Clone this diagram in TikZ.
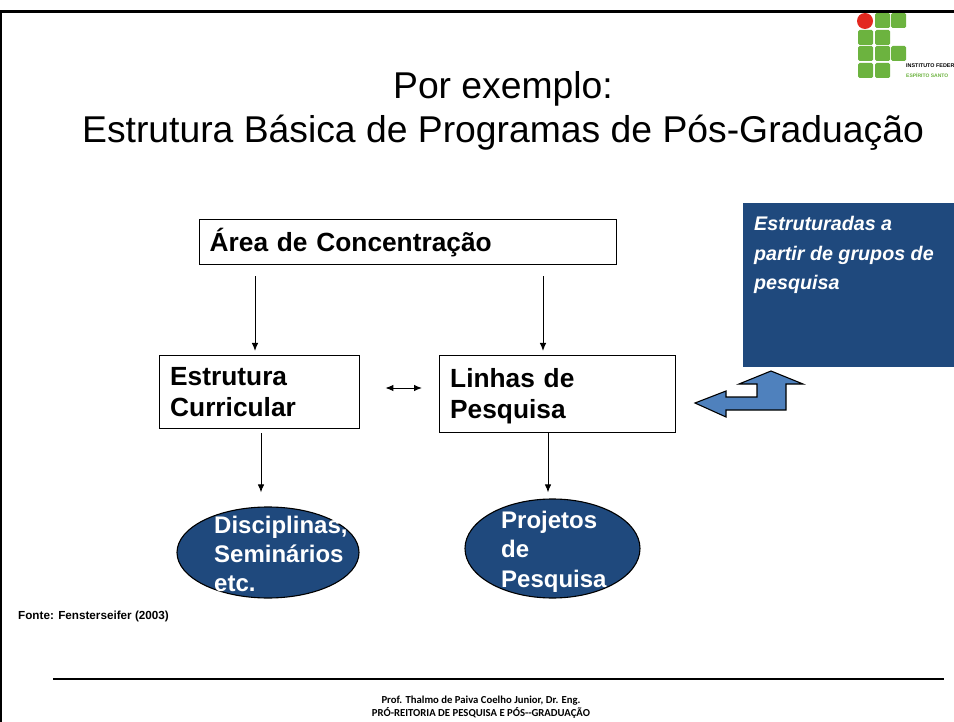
\documentclass[tikz,border=0pt]{standalone}
\usepackage{fontspec}
\setmainfont{Liberation Sans}
\newfontfamily\foot{Carlito}
\usetikzlibrary{shapes.geometric,arrows.meta}
\definecolor{navy}{HTML}{1F497D}
\definecolor{midblue}{HTML}{4F81BD}
\definecolor{ifgreen}{HTML}{6CB33F}
\definecolor{ifred}{HTML}{E3281F}
\tikzset{
 box/.style={draw=black,line width=1.4pt,fill=white,inner sep=0pt,text=black,font=\fontsize{26.3}{31.5}\selectfont\bfseries,align=left},
 oval/.style={draw=black,line width=1.1pt,fill=navy,ellipse,inner sep=0pt},
 arr/.style={-{Latex[length=8pt,width=6.5pt]},line width=1pt,black},
 ovaltext/.style={anchor=north west,inner sep=0pt,text=white,font=\fontsize{24}{29.3}\selectfont\bfseries,align=left},
 titletext/.style={inner sep=0pt,font=\fontsize{37.3}{44}\selectfont,align=center},
 footer/.style={inner sep=0pt,font=\fontsize{10.7}{13}\selectfont\foot\bfseries,align=center},
 sq/.style={fill=ifgreen,rounded corners=1.5pt,draw=none},
}
\begin{document}
\begin{tikzpicture}[x=1pt,y=-1pt]
\useasboundingbox (0,0) rectangle (954,722);
\fill[white] (0,0) rectangle (954,722);
% logo
\foreach \cx/\cy in {875/13,891/13,858/30,875/30,858/46,875/46,891/46,858/63,875/63}
  \fill[sq] (\cx,\cy) rectangle ++(15,15);
\fill[ifred] (865,21) circle (8);
\node[anchor=base west,inner sep=0pt,font=\fontsize{5.4}{6}\selectfont\bfseries] (logoa) at (906,68) {INSTITUTO FEDER};
\node[anchor=base west,inner sep=0pt,text=ifgreen,font=\fontsize{5}{6}\selectfont\bfseries] (logob) at (906,78) {ESPÍRITO SANTO};
% frame
\draw[line width=2.2pt] (1.3,722) -- (1.3,11.5) -- (954,11.5);
% title
\node[titletext] (title) at (503,111) {Por exemplo:\\Estrutura Básica de Programas de Pós-Graduação};
% boxes
\node[box,anchor=north west,minimum width=417pt,minimum height=45pt,text width=397pt] (area) at (199,219) {Área de Concentração};
\node[box,anchor=north west,minimum width=200pt,minimum height=73pt,text width=179pt] (estr) at (159,355) {Estrutura\\Curricular};
\node[box,anchor=north west,minimum width=236pt,minimum height=77pt,text width=215pt] (linhas) at (439,355) {\rule{0pt}{23pt}Linhas de\\Pesquisa};
\node[anchor=north west,fill=navy,minimum width=211pt,minimum height=164pt,inner sep=0pt] (groups) at (743,203) {};
\node[anchor=north west,inner sep=0pt,text=white,font=\fontsize{19.7}{29.6}\selectfont\bfseries\itshape,align=left] (groupstext) at (754,216) {Estruturadas a\\partir de grupos de\\pesquisa};
% ovals
\node[oval,minimum width=182pt,minimum height=91pt] (o1) at (268,552.5) {};
\node[oval,minimum width=175pt,minimum height=99pt] (o2) at (552.5,548.5) {};
\node[ovaltext] (o1text) at (214,515.5) {Disciplinas,\\Seminários\\etc.};
\node[ovaltext] (o2text) at (501,511) {Projetos\\de\\Pesquisa};
% connectors
\coordinate (xa) at (255,0);
\coordinate (xb) at (543,0);
\coordinate (xc) at (261,0);
\coordinate (xd) at (548,0);
\coordinate (ym) at (0,388);
\draw[arr,shorten <=11pt,shorten >=4pt] (area.south -| xa) -- (estr.north -| xa);
\draw[arr,shorten <=11pt,shorten >=4pt] (area.south -| xb) -- (linhas.north -| xb);
\draw[arr,{Latex[length=8pt,width=6.5pt]}-{Latex[length=8pt,width=6.5pt]},shorten <=25pt,shorten >=17pt] (estr.east |- ym) -- (linhas.west |- ym);
\draw[arr,shorten <=4pt,shorten >=14pt] (estr.south -| xc) -- (o1.north -| xc);
\draw[arr,shorten <=0pt,shorten >=6pt] (linhas.south -| xd) -- (o2.north -| xd);
% bent arrow
\draw[fill=midblue,line width=1.1pt,line join=miter] (695,403) -- (726,391) -- (726,397) -- (757,397) -- (757,384) -- (739,384) -- (771,371) -- (803,384) -- (786,384) -- (786,410) -- (726,410) -- (726,417) -- cycle;
% fonte
\node[anchor=base west,inner sep=0pt,font=\fontsize{11.7}{13}\selectfont\bfseries] (fonte) at (18,619) {Fonte: Fensterseifer (2003)};
% footer
\coordinate (r1) at (53,679);
\coordinate (r2) at (944,679);
\draw[line width=2pt] (r1) -- (r2);
\node[footer] (foot) at (481,707) {Prof. Thalmo de Paiva Coelho Junior, Dr. Eng.\\PRÓ-REITORIA DE PESQUISA E PÓS--GRADUAÇÃO};
\end{tikzpicture}
\end{document}
